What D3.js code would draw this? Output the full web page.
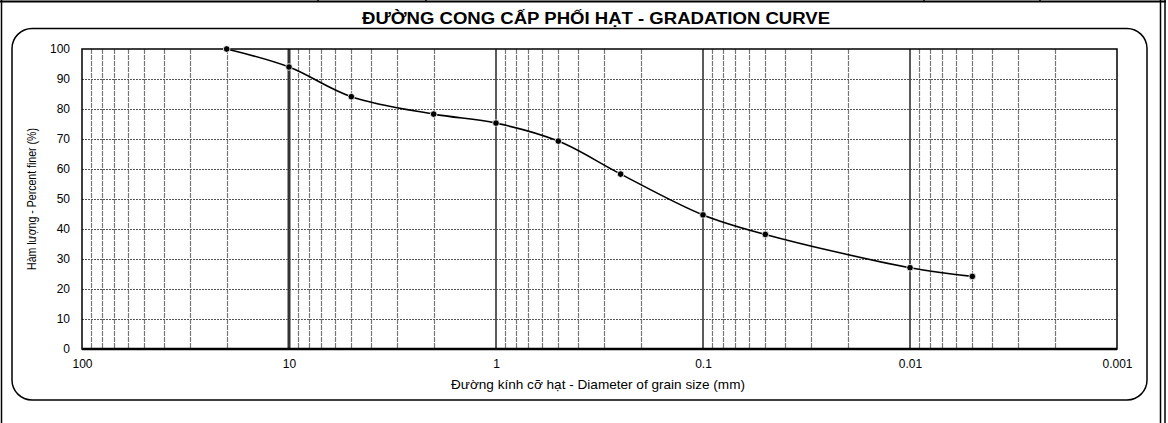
<!DOCTYPE html>
<html>
<head>
<meta charset="utf-8">
<script src="https://cdn.jsdelivr.net/npm/d3@7"></script>
<style>
  body { margin: 0; background: #fff; }
  svg { display: block; }
  text { font-family: "Liberation Sans", Arial, sans-serif; fill: #000; }
</style>
</head>
<body>
<div id="chart-area"></div>
<script>
// grain sizes (mm) and percent finer
const sizes = [20, 10, 5, 2, 1, 0.5, 0.25, 0.1, 0.05, 0.01, 0.005];
const percents = [100, 94, 84.1, 78.3, 75.3, 69.3, 58.3, 44.7, 38.2, 27.1, 24.2];
const xTicks = [100, 10, 1, 0.1, 0.01, 0.001];
const xTickLabels = ["100", "10", "1", "0.1", "0.01", "0.001"];
const yTicks = [0, 10, 20, 30, 40, 50, 60, 70, 80, 90, 100];

const W = 1168, H = 423;
const margin = { left: 82, right: 51, top: 49, bottom: 74 };
const width = W - margin.left - margin.right;
const height = H - margin.top - margin.bottom;

const svg = d3.select("#chart-area")
    .append("svg")
    .attr("width", W)
    .attr("height", H);

// outer sheet frame
svg.append("line").attr("x1", 0).attr("x2", 1166).attr("y1", 1.5).attr("y2", 1.5)
    .attr("stroke", "#000").attr("stroke-width", 2);
svg.append("line").attr("x1", 1.5).attr("x2", 1.5).attr("y1", 0).attr("y2", H)
    .attr("stroke", "#000").attr("stroke-width", 1.5);
[1160.5, 1165].forEach(function(x) {
    svg.append("line").attr("x1", x).attr("x2", x).attr("y1", 0).attr("y2", H)
        .attr("stroke", "#000").attr("stroke-width", 1.5);
});
[318, 426, 924, 1040].forEach(function(x) {
    svg.append("line").attr("x1", x).attr("x2", x).attr("y1", 0).attr("y2", 2)
        .attr("stroke", "#000").attr("stroke-width", 1.5);
});

// title
svg.append("text")
    .attr("x", 596)
    .attr("y", 24)
    .attr("text-anchor", "middle")
    .attr("font-size", "16px")
    .attr("font-weight", "bold")
    .attr("textLength", 468)
    .attr("lengthAdjust", "spacingAndGlyphs")
    .text("ĐƯỜNG CONG CẤP PHỐI HẠT - GRADATION CURVE");

// rounded chart box
svg.append("rect")
    .attr("x", 12)
    .attr("y", 28.5)
    .attr("width", 1135)
    .attr("height", 371.5)
    .attr("rx", 20)
    .attr("fill", "none")
    .attr("stroke", "#000")
    .attr("stroke-width", 1.5);

const g = svg.append("g")
    .attr("transform", "translate(" + margin.left + ", " + margin.top + ")");

// X Scale (log, reversed)
const x = d3.scaleLog()
    .domain([100, 0.001])
    .range([0, width]);

// Y Scale
const y = d3.scaleLinear()
    .domain([0, 100])
    .range([height, 0]);

// vertical grid: 1..9 in each decade
const minor = [];
for (let e = -3; e <= 1; e++) {
    for (let k = 1; k <= 9; k++) {
        minor.push(+(k * Math.pow(10, e)).toPrecision(3));
    }
}
const major = [10, 1, 0.1, 0.01];
const snap = function(v) { return Math.round(v) + 0.5; };

g.selectAll(".vgrid")
    .data(minor.filter(function(d) { return d < 100 && d > 0.001; }))
    .enter().append("line")
    .attr("class", "vgrid")
    .attr("x1", function(d) { return major.includes(d) ? x(d) : snap(x(d)); })
    .attr("x2", function(d) { return major.includes(d) ? x(d) : snap(x(d)); })
    .attr("y1", 0)
    .attr("y2", height)
    .attr("stroke", function(d) { return major.includes(d) ? "#333" : "#777"; })
    .attr("stroke-width", function(d) { return d === 10 ? 3 : (major.includes(d) ? 1.6 : 1.2); })
    .attr("stroke-dasharray", function(d) { return major.includes(d) ? null : "5,1"; });

// horizontal grid
g.selectAll(".hgrid")
    .data(yTicks.filter(function(d) { return d > 0 && d < 100; }))
    .enter().append("line")
    .attr("class", "hgrid")
    .attr("x1", 0)
    .attr("x2", width)
    .attr("y1", function(d) { return snap(y(d)); })
    .attr("y2", function(d) { return snap(y(d)); })
    .attr("stroke", "#555")
    .attr("stroke-width", 1.1)
    .attr("stroke-dasharray", "2,1");

// plot border
g.append("rect")
    .attr("width", width)
    .attr("height", height)
    .attr("fill", "none")
    .attr("stroke", "#000")
    .attr("stroke-width", 1.5);
g.append("line")
    .attr("x1", 0).attr("x2", width)
    .attr("y1", height).attr("y2", height)
    .attr("stroke", "#000").attr("stroke-width", 2.5);

// X Axis labels
const xAxisCall = d3.axisBottom(x)
    .tickValues(xTicks)
    .tickSize(0)
    .tickPadding(10)
    .tickFormat(function(d, i) { return xTickLabels[i]; });
const xAxisGroup = g.append("g")
    .attr("transform", "translate(0," + height + ")")
    .call(xAxisCall);
xAxisGroup.select(".domain").remove();
xAxisGroup.selectAll("text").attr("font-size", "12px").attr("font-family", "Liberation Sans, Arial, sans-serif");

// Y Axis labels
const yAxisCall = d3.axisLeft(y)
    .tickValues(yTicks)
    .tickSize(0)
    .tickPadding(12);
const yAxisGroup = g.append("g").call(yAxisCall);
yAxisGroup.select(".domain").remove();
yAxisGroup.selectAll("text").attr("font-size", "12px").attr("font-family", "Liberation Sans, Arial, sans-serif");

// X Label
svg.append("text")
    .attr("x", 598)
    .attr("y", 389)
    .attr("text-anchor", "middle")
    .attr("font-size", "13px")
    .attr("font-family", "'Liberation Sans Narrow', 'Arial Narrow', sans-serif")
    .attr("textLength", 294)
    .attr("lengthAdjust", "spacingAndGlyphs")
    .text("Đường kính cỡ hạt - Diameter of grain size (mm)");

// Y Label
svg.append("text")
    .attr("transform", "translate(36," + 199 + ") rotate(-90)")
    .attr("text-anchor", "middle")
    .attr("font-size", "13px")
    .attr("font-family", "'Liberation Sans Narrow', 'Arial Narrow', sans-serif")
    .attr("textLength", 142)
    .attr("lengthAdjust", "spacingAndGlyphs")
    .text("Hàm lượng  - Percent finer (%)");

// curve
const pts = sizes.map(function(s, i) { return [s, percents[i]]; });
const line = d3.line()
    .x(function(d) { return x(d[0]); })
    .y(function(d) { return y(d[1]); })
    .curve(d3.curveCatmullRom.alpha(0.5));

g.append("path")
    .datum(pts)
    .attr("d", line)
    .attr("fill", "none")
    .attr("stroke", "#000")
    .attr("stroke-width", 1.6);

g.selectAll(".pt")
    .data(pts)
    .enter().append("circle")
    .attr("class", "pt")
    .attr("cx", function(d) { return x(d[0]); })
    .attr("cy", function(d) { return y(d[1]); })
    .attr("r", 3.3)
    .attr("fill", "#000")
    .attr("stroke", "#fff")
    .attr("stroke-width", 0.8);
</script>
</body>
</html>
